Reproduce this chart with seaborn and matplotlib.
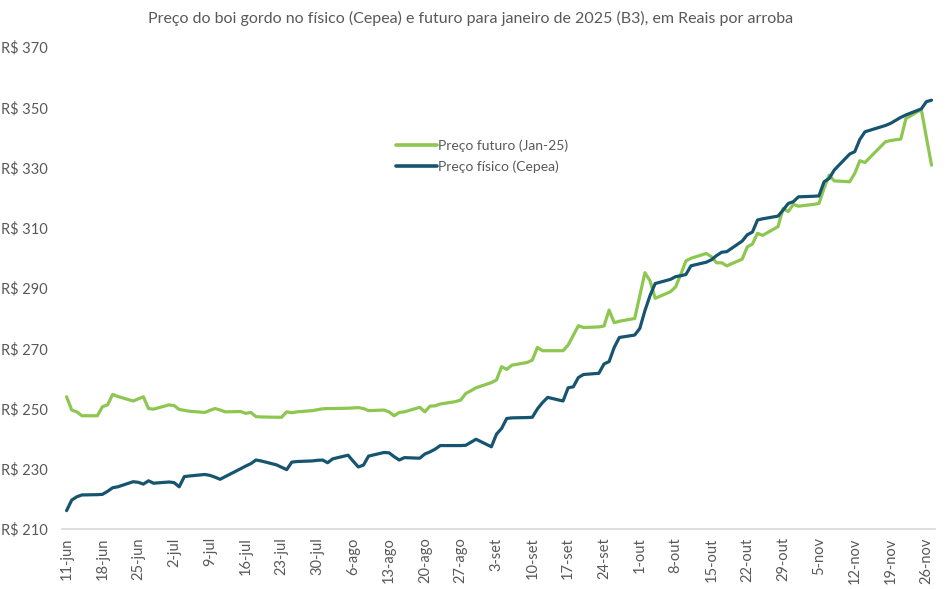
import pandas as pd
import numpy as np
import matplotlib
matplotlib.use('Agg')
import matplotlib.pyplot as plt
import matplotlib.dates as mdates
import seaborn as sns

# datas: pregões de 11-jun a 27-nov de 2024 (sem 15-nov e 20-nov)
datas = pd.bdate_range('2024-06-11', '2024-11-27')
datas = datas[~datas.isin(pd.to_datetime(['2024-11-15', '2024-11-20']))]

# Preço futuro (Jan-25), B3
futuro = [
    # jun
    253.9, 249.5, 248.9, 247.6, 247.6, 250.6, 251.2, 254.7, 254.0, 252.5, 253.2, 253.9, 250.0, 249.8,
    # jul
    251.2, 251.0, 249.7, 249.4, 249.1, 248.7, 249.4, 250.0, 249.5, 248.9, 249.0, 248.4, 248.7, 247.3,
    247.2, 247.1, 247.1, 248.9, 248.6, 248.9, 249.3, 249.6, 249.9,
    # ago
    250.0, 250.0, 250.1, 250.2, 250.3, 250.0, 249.3, 249.5, 248.9, 247.6, 248.7, 248.9, 250.4, 248.9,
    250.8, 250.9, 251.5, 252.3, 252.8, 255.0, 255.9, 256.9,
    # set
    258.6, 259.5, 263.9, 263.0, 264.4, 265.3, 266.1, 270.3, 269.2, 269.2, 269.2, 271.1, 274.3, 277.5,
    276.9, 277.1, 277.4, 282.7, 278.5, 279.0, 279.9,
    # out
    287.5, 295.1, 292.4, 286.6, 288.8, 290.4, 294.5, 299.0, 299.9, 301.5, 300.4, 298.4, 298.4, 297.4,
    299.6, 303.7, 304.6, 308.2, 307.5, 310.4, 316.4, 315.4, 317.8,
    # nov
    317.2, 317.8, 318.1, 323.1, 327.5, 325.6, 325.3, 328.1, 332.3, 331.7, 338.6, 339.0, 339.5, 346.3,
    349.3, 340.0, 330.8,
]

# Preço físico (Cepea)
fisico = [
    # jun
    216.1, 219.6, 220.7, 221.3, 221.4, 221.5, 222.5, 223.7, 224.0, 225.7, 225.5, 224.9, 226.0, 225.2,
    # jul
    225.6, 225.4, 224.0, 227.4, 227.6, 228.1, 227.8, 227.2, 226.5, 227.4, 230.0, 230.9, 231.7, 232.9,
    232.6, 231.3, 230.5, 229.7, 232.2, 232.4, 232.6, 232.8, 232.9,
    # ago
    232.0, 233.3, 234.5, 232.5, 230.6, 231.2, 234.2, 235.4, 235.3, 234.0, 232.9, 233.7, 233.5, 234.9,
    235.6, 236.5, 237.7, 237.7, 237.7, 237.8, 238.8, 239.8,
    # set
    237.3, 241.5, 243.4, 246.7, 246.9, 247.0, 247.1, 249.9, 252.0, 253.7, 252.5, 256.9, 257.2, 260.3,
    261.3, 261.7, 264.8, 265.6, 270.3, 273.6, 274.4,
    # out
    276.6, 282.5, 287.5, 291.5, 292.9, 293.8, 294.1, 294.5, 297.4, 298.6, 299.4, 300.8, 301.9, 302.1,
    305.6, 307.7, 308.6, 312.6, 313.0, 313.9, 315.9, 318.1, 318.7,
    # nov
    320.3, 320.5, 320.6, 325.3, 326.4, 329.2, 334.5, 335.3, 339.4, 341.9, 344.0, 344.7, 346.7, 347.5,
    349.5, 351.9, 352.4,
]

series = ['Preço futuro (Jan-25)', 'Preço físico (Cepea)']
cores = {'Preço futuro (Jan-25)': '#8DC750', 'Preço físico (Cepea)': '#17546F'}
y_ticks = [210, 230, 250, 270, 290, 310, 330, 350, 370]
meses = {6: 'jun', 7: 'jul', 8: 'ago', 9: 'set', 10: 'out', 11: 'nov'}

assert len(datas) == len(futuro) == len(fisico)

df = pd.concat([
    pd.DataFrame({'data': datas, 'preco': futuro, 'serie': series[0]}),
    pd.DataFrame({'data': datas, 'preco': fisico, 'serie': series[1]}),
])

sns.set_theme(style='white')
plt.rcParams['font.family'] = ['Lato', 'DejaVu Sans']
cinza = '#595959'

fig = plt.figure(figsize=(9.48, 5.89), dpi=100)
ax = fig.add_axes([0.0654, 0.1019, 0.921, 0.818])

sns.lineplot(data=df, x='data', y='preco', hue='serie', hue_order=series,
             palette=cores, linewidth=2.3, ax=ax, legend=False)

ax.set_xlim(pd.Timestamp('2024-06-11') - pd.Timedelta(days=0.9),
            pd.Timestamp('2024-11-27') + pd.Timedelta(days=0.7))
ax.set_ylim(210, 370)
ax.set_yticks(y_ticks)
ax.set_yticklabels([f'R$ {v}' for v in y_ticks], color=cinza, fontsize=10.5)

x_ticks = pd.date_range('2024-06-11', '2024-11-26', freq='7D')
ax.set_xticks(x_ticks)
ax.set_xticklabels([f'{d.day}-{meses[d.month]}' for d in x_ticks],
                   rotation=90, color=cinza, fontsize=10.5)
ax.tick_params(axis='both', length=0)
ax.tick_params(axis='y', pad=10)
ax.tick_params(axis='x', pad=6)
ax.set_xlabel('')
ax.set_ylabel('')

for s in ['top', 'right', 'left']:
    ax.spines[s].set_visible(False)
ax.spines['bottom'].set_color('#D9D9D9')
ax.spines['bottom'].set_linewidth(1.2)
ax.grid(False)

handles = [plt.Line2D([], [], color=cores[s], linewidth=2.6) for s in series]
fig.legend(handles, series, loc='upper left', bbox_to_anchor=(0.405, 0.785),
           frameon=False, fontsize=10, handlelength=2.9, handletextpad=0.1,
           labelspacing=0.65, labelcolor=cinza)

fig.text(0.496, 0.968, 'Preço do boi gordo no físico (Cepea) e futuro para janeiro de 2025 (B3), em Reais por arroba',
         ha='center', va='center', color=cinza, fontsize=11.5)

fig.savefig('out.png', dpi=100)
